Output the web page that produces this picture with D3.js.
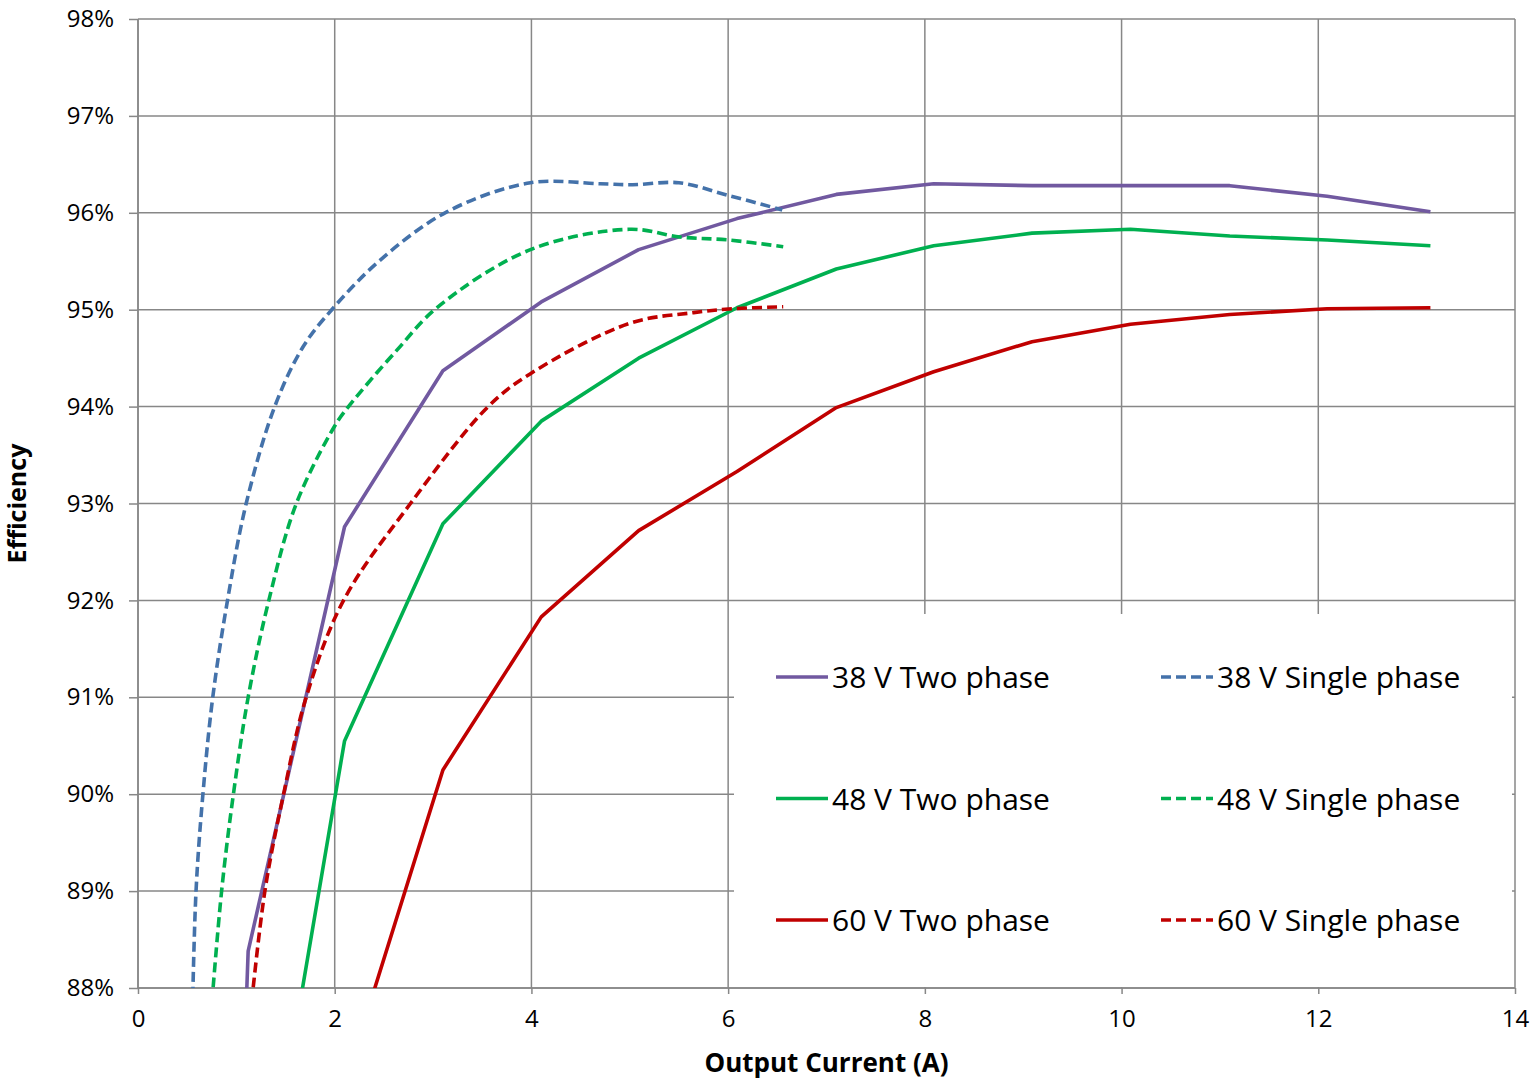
<!DOCTYPE html>
<html>
<head>
<meta charset="utf-8">
<script src="https://cdn.jsdelivr.net/npm/d3@7"></script>
<style>
  body { margin: 0; background: #fff; }
  svg { display: block; font-family: 'Open Sans', sans-serif; }
</style>
</head>
<body>
<div id="chart"></div>
<script>
// axis ticks
var xTicks = [0, 2, 4, 6, 8, 10, 12, 14];
var yTicks = [88, 89, 90, 91, 92, 93, 94, 95, 96, 97, 98];

// two phase series share the same current steps
var twoPhaseCurrent = [0.12, 1.12, 2.10, 3.10, 4.10, 5.09, 6.09, 7.10, 8.09, 9.09, 10.09, 11.10, 12.09, 13.14];
var eff38Two = [60, 88.38, 92.76, 94.37, 95.08, 95.62, 95.94, 96.19, 96.30, 96.28, 96.28, 96.28, 96.17, 96.01];
var eff48Two = [55, 84.7, 90.55, 92.79, 93.85, 94.50, 95.02, 95.42, 95.66, 95.79, 95.83, 95.76, 95.72, 95.66];
var eff60Two = [50, 80.0, 87.0, 90.25, 91.83, 92.72, 93.33, 93.99, 94.36, 94.67, 94.85, 94.95, 95.01, 95.02];

// single phase series (smoothed in the original)
var current38Single = [0.55, 0.59, 0.66, 0.76, 0.91, 1.10, 1.39, 1.68, 1.97, 2.46, 3.14, 3.99, 4.7, 5.03, 5.5, 6.0, 6.55];
var eff38Single = [87.6, 89.0, 90.0, 91.0, 92.0, 93.0, 94.0, 94.62, 95.0, 95.51, 96.01, 96.31, 96.30, 96.29, 96.31, 96.18, 96.03];
var current48Single = [0.74, 0.85, 0.97, 1.12, 1.33, 1.61, 2.0, 2.14, 2.63, 3.05, 3.99, 5.0, 5.51, 6.0, 6.56];
var eff48Single = [87.7, 89.0, 90.0, 91.0, 92.0, 93.0, 93.8, 94.0, 94.58, 95.03, 95.62, 95.83, 95.75, 95.72, 95.65];
var current60Single = [1.14, 1.29, 1.48, 1.71, 2.09, 2.77, 3.56, 3.99, 5.0, 5.65, 6.05, 6.56];
var eff60Single = [87.7, 89.0, 90.0, 91.0, 92.0, 93.0, 94.0, 94.34, 94.86, 94.97, 95.01, 95.03];

var seriesNames = ['38 V Two phase', '48 V Two phase', '60 V Two phase',
                   '38 V Single phase', '48 V Single phase', '60 V Single phase'];

function zip(xs, ys) {
  return xs.map(function (x, i) { return { x: x, y: ys[i] }; });
}

var series = [
  { name: seriesNames[0], values: zip(twoPhaseCurrent, eff38Two), color: '#7159A0', dashed: false },
  { name: seriesNames[1], values: zip(twoPhaseCurrent, eff48Two), color: '#00B050', dashed: false },
  { name: seriesNames[2], values: zip(twoPhaseCurrent, eff60Two), color: '#C00000', dashed: false },
  { name: seriesNames[3], values: zip(current38Single, eff38Single), color: '#4472AA', dashed: true },
  { name: seriesNames[4], values: zip(current48Single, eff48Single), color: '#00B050', dashed: true },
  { name: seriesNames[5], values: zip(current60Single, eff60Single), color: '#C00000', dashed: true }
];

var W = 1537, H = 1081;
var margin = { left: 138, top: 19, right: 22, bottom: 93 };
var width = W - margin.left - margin.right;
var height = H - margin.top - margin.bottom;
var gridColor = '#878787';

var svg = d3.select('#chart').append('svg')
    .attr('width', W)
    .attr('height', H);

var g = svg.append('g')
    .attr('transform', 'translate(' + margin.left + ',' + margin.top + ')');

var x = d3.scaleLinear().domain([0, 14]).range([0, width]);
var y = d3.scaleLinear().domain([88, 98]).range([height, 0]);

// gridlines
g.append('g').selectAll('line.h')
    .data(yTicks)
    .enter().append('line')
    .attr('x1', 0).attr('x2', width)
    .attr('y1', function (d) { return y(d); })
    .attr('y2', function (d) { return y(d); })
    .attr('stroke', gridColor)
    .attr('stroke-width', 1.5);

g.append('g').selectAll('line.v')
    .data(xTicks)
    .enter().append('line')
    .attr('y1', 0).attr('y2', height)
    .attr('x1', function (d) { return x(d); })
    .attr('x2', function (d) { return x(d); })
    .attr('stroke', gridColor)
    .attr('stroke-width', 1.5);

// axes
var yAxis = d3.axisLeft(y)
    .tickValues(yTicks)
    .tickSize(9)
    .tickPadding(15)
    .tickFormat(function (d) { return d + '%'; });

var xAxis = d3.axisBottom(x)
    .tickValues(xTicks)
    .tickSize(6)
    .tickPadding(16)
    .tickFormat(d3.format('d'));

var ya = g.append('g').call(yAxis);
var xa = g.append('g').attr('transform', 'translate(0,' + height + ')').call(xAxis);

[ya, xa].forEach(function (a) {
  a.selectAll('path, line').attr('stroke', gridColor).attr('stroke-width', 1.5);
  a.selectAll('text')
    .attr('fill', '#000')
    .style('font-family', "'Open Sans', sans-serif")
    .style('font-size', '24px');
});
ya.select('.domain').attr('d', 'M0,0V' + height);
xa.select('.domain').attr('d', 'M0,0H' + width);

// clip for the curves
svg.append('defs').append('clipPath')
    .attr('id', 'plot-clip')
  .append('rect')
    .attr('x', 0).attr('y', 0)
    .attr('width', width).attr('height', height);

var lineStraight = d3.line()
    .x(function (d) { return x(d.x); })
    .y(function (d) { return y(d.y); });

var lineSmooth = d3.line()
    .curve(d3.curveCatmullRom.alpha(0.5))
    .x(function (d) { return x(d.x); })
    .y(function (d) { return y(d.y); });

// legend background sits on the plot, under the curves
var legendBox = { x0: 596, y0: 595, x1: 1374, y1: 968 };
g.append('rect')
    .attr('x', legendBox.x0)
    .attr('y', legendBox.y0)
    .attr('width', legendBox.x1 - legendBox.x0)
    .attr('height', legendBox.y1 - legendBox.y0)
    .attr('fill', '#fff');

var curves = g.append('g').attr('clip-path', 'url(#plot-clip)');

curves.selectAll('path')
    .data(series)
    .enter().append('path')
    .attr('fill', 'none')
    .attr('stroke', function (d) { return d.color; })
    .attr('stroke-width', 3.6)
    .attr('stroke-linejoin', 'round')
    .attr('stroke-dasharray', function (d) { return d.dashed ? '10,5' : null; })
    .attr('d', function (d) { return d.dashed ? lineSmooth(d.values) : lineStraight(d.values); });

// legend entries, two columns of three rows
var legend = g.selectAll('.legend')
    .data(series)
    .enter().append('g')
    .attr('class', 'legend')
    .attr('transform', function (d, i) {
      var col = i < 3 ? 0 : 1;
      var row = i % 3;
      return 'translate(' + (638 + col * 385) + ',' + (658 + row * 121.5) + ')';
    });

legend.append('line')
    .attr('x1', 0).attr('x2', 52)
    .attr('y1', 0).attr('y2', 0)
    .attr('stroke', function (d) { return d.color; })
    .attr('stroke-width', 3.6)
    .attr('stroke-dasharray', function (d) { return d.dashed ? '10,5' : null; });

legend.append('text')
    .attr('x', 56)
    .attr('y', 11)
    .style('font-size', '30px')
    .attr('fill', '#000')
    .text(function (d) { return d.name; });

// axis titles
svg.append('text')
    .attr('x', margin.left + x(7))
    .attr('y', 1072)
    .attr('text-anchor', 'middle')
    .style('font-size', '26px')
    .style('font-weight', 'bold')
    .text('Output Current (A)');

svg.append('text')
    .attr('transform', 'translate(26,' + (margin.top + height / 2) + ') rotate(-90)')
    .attr('text-anchor', 'middle')
    .style('font-size', '25px')
    .style('font-weight', 'bold')
    .text('Efficiency');
</script>
</body>
</html>
